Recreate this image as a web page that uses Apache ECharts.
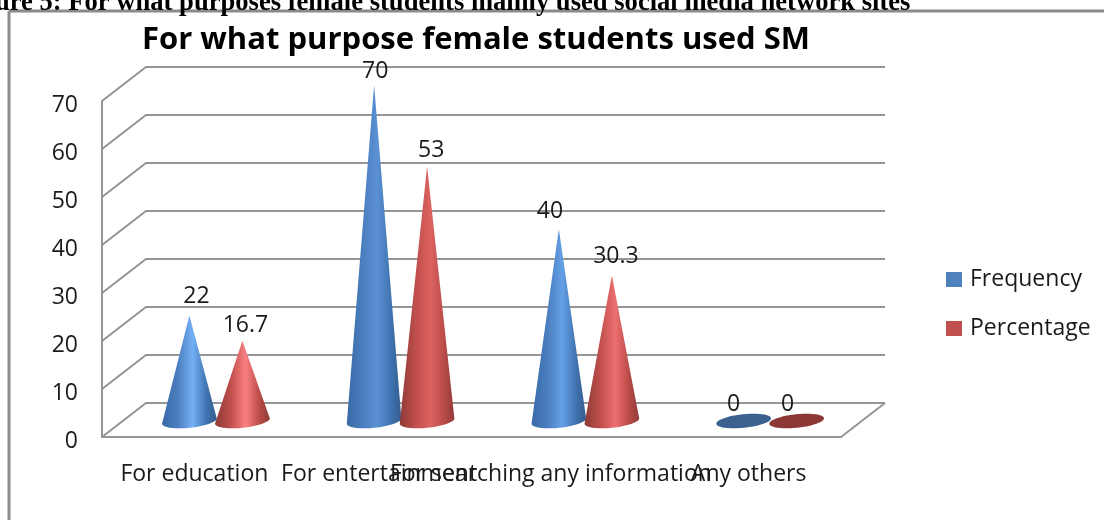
<!DOCTYPE html>
<html>
<head>
<meta charset="utf-8">
<style>html,body{margin:0;padding:0;background:#fff}#chart{width:1104px;height:520px}</style>
<script src="https://cdn.jsdelivr.net/npm/echarts@6/dist/echarts.min.js"></script>
</head>
<body>
<div id="chart"></div>
<script>
const categories = ['For education', 'For entertainment', 'For searching any information', 'Any others'];
const frequency = [22, 70, 40, 0];
const percentage = [16.7, 53, 30.3, 0];
const yTicks = [0, 10, 20, 30, 40, 50, 60, 70];

const UI_FONT = '"Open Sans", "Noto Sans", sans-serif';
const GRID_COLOR = '#959595';
const DEPTH = { x: 44, y: -34 };      // floor depth of the pseudo-3D box
const MID = { x: 22, y: -16 };        // cones stand halfway into the box
const RX = 27.5, RY = 6.8, TILT = -6 * Math.PI / 180;

// shading of each cone: the highlight is softer on the taller ones
const blueShade = { left: '#396aa6', mid: '#4a7dbd', right: '#3f72ad', edge: '#335c8d' };
const redShade = { left: '#8d3a37', mid: '#bd4e4b', right: '#b84a47', edge: '#8e3b39' };
const blueHighlights = ['#74b0f6', '#5a90d4', '#64a0e6', '#3a618f'];
const redHighlights = ['#f98080', '#dc6360', '#ee7070', '#8c3836'];

function basePoint(cx, cy, t) {
  const x = RX * Math.cos(t), y = RY * Math.sin(t);
  return [cx + x * Math.cos(TILT) - y * Math.sin(TILT), cy + x * Math.sin(TILT) + y * Math.cos(TILT)];
}

function coneGradient(shade, highlight) {
  return {
    type: 'linear', x: 0, y: 0, x2: 1, y2: 0,
    colorStops: [
      { offset: 0, color: shade.left },
      { offset: 0.28, color: shade.mid },
      { offset: 0.56, color: highlight },
      { offset: 0.82, color: shade.right },
      { offset: 1, color: shade.edge }
    ]
  };
}

function coneRenderer(shade, highlights, flatColor, shift, labelNudge) {
  return function (params, api) {
    const idx = api.value(0), v = api.value(1);
    const tip = api.coord([idx, v]);
    const foot = api.coord([idx, 0]);
    const cx = foot[0] + shift;
    const cy = foot[1] + MID.y;
    const tx = cx, ty = tip[1] + MID.y;
    const pts = [];
    let shape;
    if (v === 0) {
      for (let t = 0; t < Math.PI * 2; t += Math.PI / 24) pts.push(basePoint(cx, cy, t));
      shape = { type: 'polygon', shape: { points: pts }, style: { fill: flatColor } };
    } else {
      pts.push([tx, ty]);
      for (let t = -0.1; t <= Math.PI + 0.1; t += Math.PI / 24) pts.push(basePoint(cx, cy, t));
      shape = { type: 'polygon', shape: { points: pts }, style: { fill: coneGradient(shade, highlights[idx]) } };
    }
    const nudge = labelNudge[idx];
    return {
      type: 'group',
      children: [shape, {
        type: 'text', z2: 50,
        style: {
          text: String(v), x: tx + nudge[0], y: ty + nudge[1] + 3,
          align: 'center', verticalAlign: 'middle',
          font: '23px ' + UI_FONT, fill: '#1a1a1a'
        }
      }]
    };
  };
}

function wallRenderer(params, api) {
  const v = api.value(1);
  const sys = params.coordSys;
  const p = api.coord([0, v]);
  const left = sys.x, right = sys.x + sys.width;
  const y = p[1];
  const lineStyle = { stroke: GRID_COLOR, lineWidth: 2, fill: 'none' };
  const children = [
    { type: 'polyline', shape: { points: [[left, y], [left + DEPTH.x, y + DEPTH.y], [right + DEPTH.x, y + DEPTH.y]] }, style: lineStyle }
  ];
  if (v === 0) {
    children.push({ type: 'line', shape: { x1: right + DEPTH.x, y1: y + DEPTH.y, x2: right, y2: y }, style: lineStyle });
  }
  return { type: 'group', children };
}

const option = {
  animation: false,
  backgroundColor: '#fff',
  title: [
    {
      text: 'For what purpose female students used SM',
      left: 137, top: 20,
      textStyle: { fontFamily: UI_FONT, fontWeight: 'bold', fontSize: 31, color: '#000' }
    },
    {
      text: 'Figure 5: For what purposes female students mainly used social media network sites',
      left: -47, top: -15,
      textStyle: { fontFamily: '"Liberation Serif", serif', fontWeight: 'bold', fontSize: 26.6, color: '#000' }
    }
  ],
  legend: {
    orient: 'vertical', left: 941, top: 263, itemWidth: 16, itemHeight: 15, itemGap: 26,
    data: [{ name: 'Frequency', icon: 'rect' }, { name: 'Percentage', icon: 'rect' }],
    textStyle: { fontFamily: UI_FONT, fontSize: 23, color: '#1a1a1a', padding: [0, 0, 0, 3] }
  },
  grid: { left: 102, top: 101, width: 739, height: 336 },
  xAxis: {
    type: 'category',
    // the longest label sits a little left of its band centre
    data: categories.map((c, i) => (i === 2 ? { value: c, textStyle: { padding: [0, 26, 0, 0] } } : c)),
    axisLine: { lineStyle: { color: GRID_COLOR, width: 2 } },
    axisTick: { show: false },
    axisLabel: { interval: 0, hideOverlap: false, margin: 26, fontFamily: UI_FONT, fontSize: 23, color: '#1a1a1a' }
  },
  yAxis: {
    type: 'value', min: 0, max: 70, interval: 10,
    axisLine: { show: true, lineStyle: { color: GRID_COLOR, width: 2 } },
    axisTick: { show: false },
    splitLine: { show: false },
    axisLabel: { margin: 24, verticalAlign: 'top', lineHeight: 9, fontFamily: UI_FONT, fontSize: 23, color: '#1a1a1a' }
  },
  graphic: [
    // chart frame: only the top and left borders fall inside the canvas
    { type: 'line', silent: true, shape: { x1: 9, y1: 11, x2: 1104, y2: 11 }, style: { stroke: '#8a8a8a', lineWidth: 3 } },
    { type: 'line', silent: true, shape: { x1: 9, y1: 11, x2: 9, y2: 520 }, style: { stroke: '#8a8a8a', lineWidth: 3 } }
  ],
  series: [
    {
      name: 'walls', type: 'custom', silent: true, z: 1,
      data: yTicks.map(v => [0, v]), encode: { x: 0, y: 1 },
      renderItem: wallRenderer
    },
    {
      name: 'Frequency', type: 'custom', z: 3,
      itemStyle: { color: '#4f81bd' },
      data: frequency.map((v, i) => [i, v]), encode: { x: 0, y: 1 },
      renderItem: coneRenderer(blueShade, blueHighlights, '#3a618f', -5, [[7, -22], [1, -17], [-9, -21], [-10, -20]])
    },
    {
      name: 'Percentage', type: 'custom', z: 4,
      itemStyle: { color: '#c0504d' },
      data: percentage.map((v, i) => [i, v]), encode: { x: 0, y: 1 },
      renderItem: coneRenderer(redShade, redHighlights, '#8c3836', 48, [[3, -18], [4, -19], [4, -22], [-9, -20]])
    }
  ]
};

const chart = echarts.init(document.getElementById('chart'), null, { renderer: 'canvas' });
chart.setOption(option);
</script>
</body>
</html>
